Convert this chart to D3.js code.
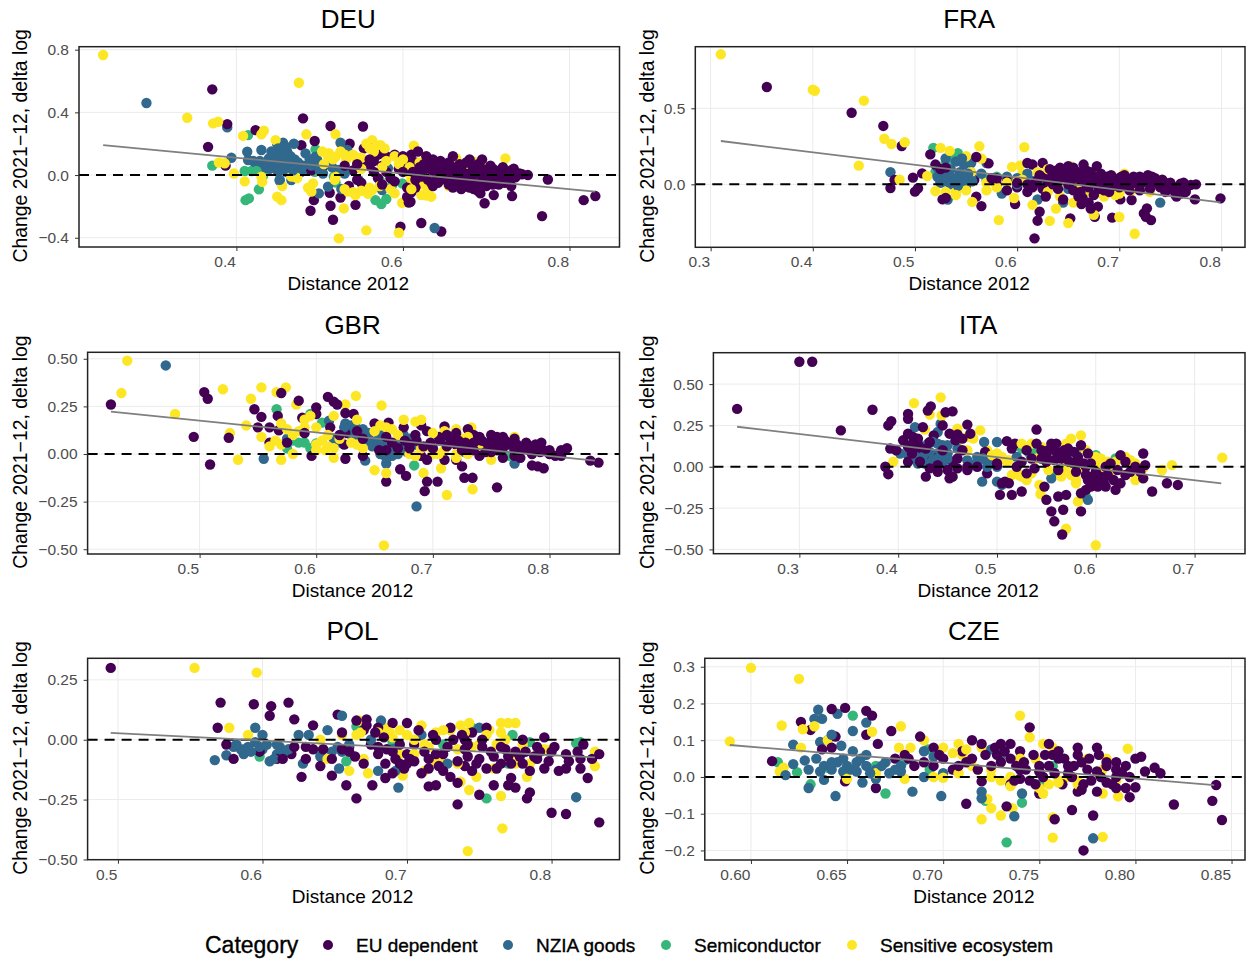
<!DOCTYPE html>
<html>
<head>
<meta charset="utf-8">
<script src="https://cdn.jsdelivr.net/npm/d3@7"></script>
<style>
  html, body { margin: 0; padding: 0; background: #fff; }
  text { font-family: "Liberation Sans", Arial, sans-serif; }
</style>
</head>
<body>
<div id="chart"></div>
<script>
const categories = ["EU dependent", "NZIA goods", "Semiconductor", "Sensitive ecosystem"];
const colors = ["#440154", "#31688e", "#35b779", "#fde725"];

// points, [distance 2012, change 2021-12]
const deuEu = [[.371,.547],[.389,.325],[.423,.287],[.366,.18],[.387,.06],[.48,.362],[.513,.313],[.552,.31],[.478,.19],[.494,.217],[.536,.2],[.553,.17],[.562,.17],[.59,.13],[.58,.12],[.57,.13],[.493,-.16],[.489,-.228],[.513,-.196],[.516,-.285],[.525,-.143],[.543,-.19],[.512,-.113],[.597,-.33],[.622,-.306],[.646,-.36],[.767,-.262],[.817,-.16],[.831,-.134],[.774,-.028],[.743,.005],[.735,-.015],[.731,-.134],[.698,-.18],[.709,-.128],[.693,-.117],[.609,-.17],[.607,-.175],[.605,-.14],[.61,-.11],[.49,.03],[.505,.06],[.54,.03],[.55,.07],[.545,-.03],[.535,-.07],[.55,-.05],[.565,.09],[.56,.06],[.575,.06],[.58,.02],[.585,-.02],[.57,-.02],[.565,.02],[.595,.04],[.6,.12],[.605,.1],[.61,.13],[.618,.15],[.6,.06],[.615,.08],[.625,.07],[.63,.1],[.62,.03],[.63,-.03],[.61,-.05],[.615,-.08],[.605,-.08],[.635,.08],[.64,.06],[.645,.09],[.65,.05],[.655,.02],[.65,-.02],[.655,-.06],[.66,-.08],[.665,-.04],[.66,.12],[.668,.07],[.672,.03],[.675,-.02],[.68,-.06],[.685,-.09],[.69,-.1],[.678,.06],[.685,.02],[.69,-.03],[.695,.04],[.7,-.01],[.705,.06],[.71,.02],[.715,-.02],[.72,.02],[.725,-.04],[.73,.03],[.73,-.07],[.715,-.06],[.7,-.07],[.665,.03],[.67,-.09],[.66,0],[.645,-.03],[.635,.03],[.64,-.01],[.695,.1],[.69,.07],[.68,.1],[.655,.08],[.72,.05],[.74,.01],[.725,.0],[.735,-.01],[.71,-.03],[.69,.01],[.68,.01],[.67,0],[.65,.03]];
const deuEuB = [[.628,.12],[.636,.1],[.644,.07],[.652,.07],[.66,.05],[.67,.05],[.676,.08],[.684,.05],[.692,.05],[.7,.03],[.708,.04],[.716,.03],[.724,.02],[.733,.04],[.642,.03],[.648,.01],[.658,.03],[.664,.01],[.674,.01],[.682,-.01],[.694,-.01],[.702,.01],[.712,0],[.722,-.01],[.642,-.05],[.654,-.04],[.664,-.06],[.674,-.05],[.683,-.04],[.692,-.06],[.704,-.04],[.714,-.04],[.722,-.05],[.662,-.02],[.672,-.07],[.68,-.08],[.698,-.03],[.708,-.06],[.62,.05],[.628,.04],[.612,.02],[.622,-.01],[.634,-.05],[.636,-.07],[.615,-.03],[.6,.02],[.59,-.04],[.575,-.06],[.56,.1],[.545,.07],[.53,.06],[.75,0]];
const deuNzia = [[.292,.46],[.389,.304],[.394,.11],[.413,.149],[.414,.096],[.43,.16],[.439,.106],[.449,.198],[.456,.206],[.469,.2],[.461,.149],[.449,.128],[.425,.064],[.432,.043],[.452,.043],[.464,.053],[.452,-.036],[.466,-.032],[.483,.138],[.495,.117],[.497,.096],[.478,.021],[.485,.032],[.51,-.074],[.499,-.117],[.526,-.089],[.525,.206],[.533,.16],[.522,.032],[.547,-.032],[.558,-.106],[.575,-.096],[.582,.043],[.638,-.338],[.44,.07],[.458,.08],[.47,.08],[.475,.05],[.455,.1],[.445,.05],[.42,.09],[.46,.02],[.49,.06]];
const deuNziaB = [[.455,.13],[.46,.18],[.465,.12],[.47,.1],[.448,.085],[.44,.04],[.435,.08],[.428,.09],[.45,.02],[.456,.06],[.462,.09],[.468,.03],[.474,.08],[.48,.06],[.488,.1],[.492,.08],[.5,.03],[.504,.01],[.515,.05],[.53,.01],[.452,-.03],[.45,.17],[.442,.15]];
const deuSemi = [[.371,.06],[.414,.255],[.41,.026],[.418,.026],[.432,-.004],[.427,-.091],[.411,-.16],[.415,-.149],[.449,.079],[.495,.164],[.494,.021],[.512,.074],[.519,-.047],[.517,-.01],[.567,-.16],[.574,-.185],[.58,-.153],[.572,-.032],[.599,-.053],[.587,-.064],[.424,.027]];
const deuSens = [[.24,.766],[.475,.589],[.341,.366],[.372,.33],[.378,.34],[.408,.25],[.433,.283],[.43,.26],[.484,.26],[.519,.26],[.447,.223],[.563,.223],[.573,.19],[.56,.17],[.613,.187],[.723,.106],[.664,.106],[.685,.085],[.379,.08],[.386,.075],[.397,.01],[.41,-.04],[.431,-.043],[.43,-.01],[.449,-.138],[.454,-.16],[.529,-.213],[.523,-.404],[.556,-.353],[.595,-.368],[.599,-.177],[.511,.14],[.503,.15],[.519,.117],[.543,.117],[.6,.075],[.619,.053],[.634,-.138],[.622,-.128],[.69,-.038],[.59,-.117],[.563,-.096],[.543,-.128],[.534,-.106],[.49,-.106],[.492,-.053],[.466,-.01],[.473,-.02],[.519,-.01],[.545,.09],[.47,-.01],[.455,-.07],[.575,.05],[.59,.12],[.612,.0],[.625,-.06],[.638,-.05],[.645,.02],[.655,-.07],[.7,.05],[.71,.02],[.62,.08],[.565,.15],[.53,.13],[.55,.04],[.505,.07],[.56,-.08],[.61,-.03]];
const deuSensB = [[.51,.12],[.516,.1],[.525,.15],[.532,.1],[.54,.13],[.55,.11],[.556,.2],[.568,.19],[.578,.17],[.6,.1],[.608,.05],[.604,.02],[.595,.07],[.58,.09],[.518,-.03],[.53,-.09],[.54,-.11],[.55,-.1],[.558,-.12],[.486,-.08],[.61,-.09],[.628,-.13],[.63,-.09],[.64,-.02],[.648,.05],[.66,-.03],[.69,-.02],[.706,-.03],[.68,.05],[.572,-.07],[.585,-.09]];

const fraEu = [[.355,.64],[.438,.471],[.469,.384],[.487,.252],[.476,-.024],[.48,.029],[.498,.044],[.507,.072],[.5,-.048],[.503,-.026],[.515,.197],[.527,-.099],[.572,.138],[.558,.029],[.56,-.081],[.565,-.143],[.598,-.129],[.617,-.355],[.62,-.239],[.622,-.18],[.652,-.224],[.676,-.213],[.679,-.147],[.693,-.219],[.701,-.099],[.712,-.103],[.724,-.191],[.727,-.158],[.731,-.235],[.726,-.213],[.799,-.092],[.774,-.099],[.77,-.004],[.76,.005],[.56,.18],[.59,.02],[.58,0],[.6,-.02],[.575,.03],[.61,.14],[.625,.14],[.615,.13],[.63,.06],[.635,.08],[.64,.07],[.645,.05],[.62,.03],[.63,.02],[.625,-.03],[.61,-.05],[.615,-.02],[.64,.03],[.65,.12],[.66,.08],[.665,.13],[.678,.12],[.65,.08],[.655,.04],[.645,.09],[.635,.05],[.665,.06],[.67,.03],[.64,-.03],[.645,-.1],[.66,-.08],[.663,-.13],[.672,-.16],[.655,-.04],[.67,-.02],[.675,-.07],[.68,.03],[.69,.01],[.7,.04],[.71,.02],[.71,-.04],[.72,.05],[.725,.03],[.73,.02],[.72,-.04],[.74,-.02],[.735,.04],[.745,.01],[.75,-.03],[.755,-.07],[.76,-.06],[.762,.0],[.765,-.03],[.755,-.02],[.74,.01],[.73,-.03],[.705,.06],[.695,.03],[.685,.0],[.685,-.04],[.7,-.02],[.652,.02],[.658,.06],[.648,.1],[.655,.11],[.65,.0],[.755,-.04],[.745,-.05],[.775,0]];
const fraEuB = [[.632,.1],[.638,.09],[.642,.11],[.64,.08],[.646,.07],[.652,.06],[.66,.05],[.662,.03],[.668,.09],[.672,.08],[.676,.05],[.682,.07],[.688,.05],[.692,.06],[.698,.02],[.702,.05],[.714,.05],[.722,.01],[.728,.06],[.732,.05],[.737,.01],[.742,.03],[.746,-.02],[.75,.01],[.758,-.05],[.763,.01],[.765,-.05],[.756,-.08],[.662,-.05],[.668,-.01],[.674,.01],[.68,-.03],[.69,-.05],[.694,-.01],[.705,-.01],[.715,.01],[.67,-.12],[.664,-.09],[.58,.04],[.59,-.04],[.6,.01],[.61,.0],[.618,.01],[.622,.06],[.628,-.08],[.635,0],[.53,-.09],[.52,.13],[.525,.1],[.53,.11],[.575,.04]];
const fraNzia = [[.476,.08],[.522,.08],[.53,.04],[.53,.17],[.54,.15],[.548,.13],[.555,.14],[.57,.14],[.535,.1],[.545,.06],[.55,.03],[.525,.01],[.535,0],[.54,.03],[.55,-.01],[.555,.05],[.532,-.1],[.525,.02],[.545,.01],[.585,-.06],[.62,-.1],[.61,.07],[.59,.05],[.645,-.12],[.74,-.12],[.565,.07],[.6,.04],[.53,.08],[.625,.02]];
const fraNziaB = [[.522,.11],[.528,.09],[.534,.06],[.54,.04],[.544,.08],[.552,.07],[.556,.02],[.528,.02],[.532,.02],[.538,.01],[.548,.03],[.542,-.01],[.546,.17],[.53,.06],[.522,.05],[.6,.0],[.612,.03],[.64,-.01],[.65,-.03]];
const fraSemi = [[.518,.24],[.53,.14],[.542,.205],[.535,.17],[.52,.08],[.57,.03],[.58,.05],[.655,.03],[.67,-.02],[.678,.02],[.68,-.05],[.705,.02],[.725,-.03],[.675,-.16]];
const fraSens = [[.31,.855],[.4,.622],[.402,.615],[.45,.55],[.47,.3],[.477,.265],[.49,.277],[.445,.123],[.485,.03],[.525,.24],[.534,.22],[.55,.185],[.563,.25],[.565,.17],[.607,.245],[.595,.115],[.603,.125],[.605,.07],[.52,-.045],[.53,-.05],[.54,-.05],[.55,-.04],[.555,.08],[.512,.055],[.556,-.115],[.582,-.235],[.597,-.09],[.615,-.135],[.632,-.24],[.65,-.255],[.638,-.16],[.642,-.08],[.655,-.12],[.655,.09],[.652,.12],[.675,-.2],[.685,-.08],[.69,-.02],[.68,.07],[.7,-.215],[.715,-.325],[.705,.07],[.694,.05],[.715,.04],[.75,-.01],[.73,-.05],[.7,-.06],[.57,-.04],[.6,.02],[.63,.1],[.64,-.02],[.66,-.01],[.67,.07]];
const fraSensB = [[.54,-.07],[.59,.01],[.605,.03],[.62,.08],[.63,-.05],[.668,-.05],[.685,.04],[.696,-.07],[.712,-.04],[.7,.03],[.58,-.02],[.57,.01]];

const gbrEu = [[.424,.26],[.504,.325],[.507,.29],[.495,.09],[.509,-.055],[.525,.085],[.547,.235],[.553,.195],[.55,.14],[.56,.06],[.567,.2],[.568,.125],[.585,.28],[.57,.32],[.588,.19],[.6,.245],[.6,.21],[.61,.3],[.615,.275],[.618,.26],[.596,-.01],[.612,.14],[.625,.215],[.632,.21],[.624,.05],[.625,.11],[.625,-.025],[.64,-.01],[.65,.16],[.662,.165],[.66,-.145],[.675,.14],[.672,-.08],[.677,-.115],[.693,-.195],[.695,-.145],[.704,-.145],[.69,-.01],[.69,.15],[.695,.12],[.71,.145],[.705,.09],[.71,-.03],[.72,-.03],[.725,-.065],[.727,-.125],[.734,-.125],[.755,-.175],[.73,.13],[.735,.1],[.74,.05],[.72,.05],[.715,.07],[.745,.04],[.75,.1],[.755,.09],[.76,.09],[.765,.05],[.76,-.02],[.78,.06],[.785,.04],[.79,.03],[.793,.06],[.79,-.065],[.795,-.075],[.785,-.06],[.8,.02],[.81,.02],[.815,.03],[.805,-.01],[.835,-.035],[.842,-.045],[.77,.08],[.775,.02],[.73,.03],[.74,-.01],[.7,.03],[.68,.05],[.66,.02],[.665,.06],[.685,.1],[.695,-.03],[.72,.11],[.75,.01],[.76,.03],[.77,.02],[.795,.02],[.785,.0]];
const gbrEuB = [[.722,.07],[.728,.06],[.735,.06],[.742,.07],[.748,.06],[.752,.05],[.758,.05],[.762,.07],[.768,.06],[.772,.05],[.778,.03],[.782,.02],[.788,.05],[.792,.01],[.725,.02],[.712,.04],[.706,.07],[.698,.06],[.692,.04],[.686,.07],[.68,.03],[.676,.07],[.67,.03],[.712,.1],[.735,.02],[.745,.01],[.755,.02],[.77,-.01],[.775,-.02],[.74,.09],[.66,.09],[.654,.02],[.64,.08],[.635,.12],[.62,.1],[.56,.14],[.575,.06],[.59,.11],[.8,.0],[.81,-.01]];
const gbrNzia = [[.471,.465],[.555,-.025],[.686,-.275],[.77,-.05],[.611,.175],[.625,.16],[.63,.15],[.64,.13],[.645,.11],[.615,.08],[.63,.1],[.645,.055],[.642,-.035],[.655,.1],[.66,.08],[.655,.0],[.66,-.05],[.668,.02],[.675,.04],[.68,.08],[.675,.1],[.62,.06],[.665,-.01],[.648,.04],[.575,.08]];
const gbrNziaB = [[.628,.13],[.634,.14],[.638,.11],[.632,.08],[.624,.14],[.652,.07],[.658,.04],[.662,.01],[.67,.0],[.67,.06],[.678,.01],[.655,.03],[.66,-.02],[.642,.1],[.645,.08],[.685,.05]];
const gbrSemi = [[.566,.235],[.595,.21],[.605,.165],[.59,.06],[.6,.055],[.575,.03],[.66,.03],[.675,.09],[.684,-.06],[.7,.02],[.727,.01],[.765,-.01],[.595,.03],[.585,.06],[.58,.07]];
const gbrSens = [[.438,.49],[.433,.32],[.479,.21],[.52,.34],[.526,.11],[.533,-.03],[.544,.29],[.553,.35],[.566,.325],[.574,.35],[.583,.26],[.6,.14],[.634,.305],[.656,.255],[.625,.26],[.54,.15],[.553,.09],[.57,.16],[.57,-.03],[.58,.0],[.56,.04],[.57,.05],[.595,.2],[.59,.14],[.6,.02],[.61,.04],[.615,-.02],[.615,.03],[.635,.18],[.63,.06],[.615,.2],[.65,-.085],[.66,-.1],[.692,-.1],[.707,-.075],[.712,-.215],[.734,-.185],[.658,-.48],[.675,.18],[.685,.17],[.69,.18],[.71,.12],[.72,.13],[.733,.14],[.75,-.03],[.72,-.02],[.7,.0],[.74,.0],[.75,.05],[.77,.09],[.78,.05],[.69,.03],[.66,.14],[.725,.08],[.72,.0],[.68,.0]];
const gbrSensB = [[.605,.07],[.6,.05],[.608,.02],[.62,.08],[.58,.1],[.585,.12],[.59,.18],[.635,.05],[.64,.03],[.65,.12],[.665,.13],[.655,.15],[.67,.1],[.695,.04],[.705,.0],[.71,.02],[.73,.0],[.74,.02],[.755,.03],[.73,.09],[.7,.11],[.575,.13],[.565,.07],[.61,.1],[.685,-.01]];

const itaEu = [[.3,.635],[.313,.635],[.237,.35],[.374,.345],[.342,.22],[.393,.275],[.39,.25],[.41,.32],[.41,.29],[.43,.34],[.433,.365],[.455,.335],[.448,.33],[.445,.25],[.47,.255],[.46,.195],[.465,.17],[.473,.2],[.392,.11],[.398,.1],[.405,.16],[.41,.2],[.415,.18],[.42,.17],[.425,.24],[.436,.19],[.387,0],[.39,-.045],[.428,-.06],[.41,.03],[.42,.09],[.427,.045],[.435,.055],[.44,-.03],[.45,-.02],[.452,-.07],[.455,.03],[.46,-.01],[.47,-.02],[.49,-.04],[.488,.09],[.503,-.17],[.515,-.17],[.525,-.15],[.508,-.09],[.51,.155],[.518,.14],[.525,.03],[.53,-.04],[.54,.225],[.54,.14],[.545,.1],[.55,.03],[.555,.14],[.56,.14],[.56,.09],[.565,.05],[.548,-.12],[.55,-.2],[.555,-.27],[.558,-.33],[.566,-.41],[.562,-.18],[.57,-.17],[.567,-.26],[.585,-.27],[.585,-.16],[.59,-.14],[.595,-.12],[.6,-.1],[.585,.13],[.592,.08],[.58,.03],[.573,.03],[.61,-.12],[.62,-.14],[.625,-.1],[.615,.02],[.625,.07],[.63,-.05],[.648,.08],[.65,.01],[.648,-.07],[.657,-.15],[.672,-.1],[.683,-.11],[.6,-.03],[.59,-.05],[.605,-.06],[.57,.06],[.55,.07],[.58,-.03],[.595,.02],[.52,.0],[.5,.01],[.61,.0]];
const itaEuB = [[.412,.13],[.42,.14],[.428,.11],[.432,.15],[.445,.1],[.452,.2],[.458,.16],[.41,.12],[.414,.08],[.505,-.1],[.512,-.1],[.5,.02],[.515,.11],[.53,.1],[.535,.05],[.538,-.01],[.545,.05],[.552,.1],[.558,.04],[.562,-.02],[.568,.1],[.572,.11],[.578,.09],[.582,.06],[.588,.02],[.59,.0],[.592,-.08],[.596,-.06],[.602,-.12],[.608,-.09],[.612,-.05],[.618,-.08],[.622,-.02],[.63,.03],[.635,-.03],[.64,.0],[.645,-.03],[.46,.05],[.47,.0],[.48,.0],[.455,-.06],[.44,.01],[.432,-.01],[.422,.03],[.465,.1]];
const itaNzia = [[.417,.24],[.443,.26],[.44,.21],[.43,.14],[.44,.14],[.45,.13],[.425,.1],[.41,.07],[.415,.1],[.42,.05],[.43,.06],[.44,.08],[.445,.04],[.45,.08],[.42,.02],[.44,.02],[.402,.08],[.487,.15],[.5,.15],[.48,.06],[.49,.03],[.475,.01],[.485,-.09],[.5,-.09],[.505,-.11],[.5,.0],[.445,.02],[.555,-.07],[.592,-.2],[.605,-.07],[.48,.03],[.52,.06]];
const itaNziaB = [[.435,.15],[.445,.13],[.425,.06],[.435,.04],[.418,.06],[.45,.05],[.44,.05],[.432,.09],[.47,.04],[.486,.05],[.495,.05],[.46,.11],[.427,.02],[.49,.0]];
const itaSemi = [[.455,-.06],[.525,.11],[.533,.08],[.537,.07],[.56,-.03],[.565,.08],[.575,.08],[.6,.07],[.59,-.18],[.62,.05],[.57,.02],[.58,.08],[.535,.1]];
const itaSens = [[.416,.385],[.443,.42],[.432,.315],[.444,.31],[.427,.225],[.395,.03],[.46,.23],[.47,.18],[.483,.22],[.476,.17],[.46,.15],[.49,.1],[.5,.08],[.512,.04],[.525,-.06],[.515,-.05],[.535,.14],[.545,.12],[.53,-.08],[.543,-.11],[.544,-.165],[.57,-.375],[.6,-.475],[.582,-.21],[.575,.17],[.585,.19],[.57,.14],[.57,.0],[.565,-.03],[.58,-.08],[.6,.0],[.61,-.02],[.605,.05],[.625,.05],[.63,.06],[.635,.04],[.64,-.08],[.63,-.05],[.645,-.02],[.667,-.02],[.677,.01],[.728,.055],[.612,.03],[.59,.1],[.535,-.04]];
const itaSensB = [[.51,.03],[.52,-.03],[.522,-.05],[.525,.14],[.54,.05],[.552,-.02],[.565,-.06],[.575,-.05],[.58,-.1],[.6,.03],[.615,-.04],[.62,.03],[.632,.03],[.64,.02],[.648,-.01],[.495,.07],[.505,.06],[.47,.1],[.585,-.01],[.6,.06]];

const polEu = [[.495,.3],[.571,.155],[.569,.05],[.594,.148],[.606,.14],[.605,.1],[.618,.155],[.622,.085],[.635,.06],[.627,-.155],[.648,-.15],[.652,.105],[.658,-.19],[.665,-.245],[.676,-.19],[.665,.08],[.672,.085],[.61,-.08],[.62,-.06],[.598,-.05],[.58,-.08],[.575,-.02],[.635,-.04],[.64,-.11],[.63,-.08],[.655,.03],[.66,-.03],[.67,.04],[.675,-.02],[.68,.05],[.68,-.06],[.685,-.1],[.69,-.05],[.685,-.16],[.69,.07],[.695,-.1],[.7,.07],[.7,-.06],[.705,-.02],[.71,-.14],[.715,-.195],[.72,-.19],[.72,.0],[.725,-.06],[.73,.05],[.725,-.13],[.73,-.155],[.735,-.18],[.735,-.27],[.74,-.11],[.742,-.07],[.745,.03],[.75,-.23],[.752,-.03],[.755,.05],[.755,-.12],[.76,-.19],[.77,-.19],[.775,-.2],[.772,-.16],[.77,-.07],[.765,-.03],[.78,-.1],[.78,.0],[.79,-.03],[.785,-.13],[.795,.01],[.795,-.12],[.785,-.22],[.783,-.245],[.8,-.305],[.81,-.31],[.833,-.345],[.833,-.06],[.81,-.12],[.82,-.12],[.822,-.02],[.825,-.16],[.82,-.08],[.8,-.05],[.81,-.06],[.76,-.07],[.75,-.08],[.74,.0],[.715,-.08],[.7,-.1],[.68,-.03],[.72,-.06],[.74,-.04],[.67,-.1],[.66,-.05],[.695,-.02],[.775,-.05],[.79,-.08]];
const polEuB = [[.672,.06],[.678,.03],[.684,.01],[.686,-.04],[.692,-.08],[.698,-.12],[.702,-.08],[.708,.04],[.712,-.05],[.718,.02],[.722,-.11],[.728,-.03],[.732,.0],[.738,.02],[.742,-.02],[.748,-.1],[.752,.0],[.758,-.05],[.762,-.12],[.768,-.04],[.772,-.1],[.778,-.07],[.782,-.05],[.788,-.07],[.792,-.05],[.798,-.09],[.802,-.03],[.812,-.09],[.818,-.05],[.828,-.08],[.664,-.07],[.655,-.04],[.648,-.08],[.642,-.04],[.63,-.03],[.622,-.03],[.614,-.08],[.69,-.14],[.705,-.09],[.715,-.12],[.735,-.09],[.745,-.13],[.765,-.1],[.805,-.13]];
const polNzia = [[.567,-.085],[.575,-.065],[.58,-.03],[.587,-.06],[.595,-.01],[.59,-.03],[.595,.05],[.6,.02],[.6,-.04],[.61,-.06],[.605,-.09],[.612,-.03],[.625,.02],[.628,-.1],[.64,-.07],[.645,.04],[.652,-.03],[.653,-.12],[.655,.1],[.682,.08],[.68,-.13],[.692,-.13],[.694,-.2],[.69,-.04],[.71,.02],[.728,-.1],[.75,.05],[.817,-.24],[.585,-.04],[.615,-.05],[.632,.02],[.66,-.02],[.675,0]];
const polNziaB = [[.582,-.02],[.588,-.04],[.592,-.05],[.598,-.03],[.603,-.02],[.608,-.08],[.61,-.02],[.618,-.04],[.648,-.05],[.655,-.05]];
const polSemi = [[.598,-.07],[.59,-.04],[.64,-.05],[.658,-.09],[.665,.055],[.69,-.01],[.725,-.02],[.755,-.245],[.745,.05],[.773,.02],[.785,-.01],[.817,-.015],[.792,-.05],[.82,-.01],[.77,-.1]];
const polSens = [[.553,.3],[.596,.28],[.577,.05],[.59,.02],[.655,.02],[.665,.02],[.66,-.13],[.667,.08],[.673,-.14],[.67,-.08],[.685,.05],[.697,-.15],[.695,-.06],[.7,.02],[.71,.06],[.712,-.13],[.715,-.03],[.725,-.1],[.73,.04],[.737,.06],[.737,-.175],[.743,.07],[.743,-.21],[.742,-.465],[.748,-.155],[.757,.04],[.76,-.12],[.765,.07],[.77,.07],[.775,.07],[.765,-.235],[.766,-.37],[.775,-.1],[.785,-.1],[.78,-.02],[.783,-.155],[.795,-.04],[.8,-.04],[.83,-.05],[.83,-.11],[.72,.03],[.75,-.02],[.645,-.08],[.69,.01],[.735,-.04],[.64,.0]];
const polSensB = [[.668,.03],[.68,.03],[.688,.03],[.695,.04],[.705,.0],[.712,-.02],[.725,.04],[.74,.03],[.745,-.03],[.755,.02],[.762,-.02],[.768,.0],[.772,-.06],[.705,-.06],[.72,-.09],[.735,-.1],[.79,-.06],[.765,.03]];

const czeEu = [[.611,.043],[.626,.15],[.631,.128],[.642,.185],[.649,.188],[.66,.18],[.663,.167],[.66,.115],[.644,.11],[.666,.09],[.673,.125],[.637,.075],[.642,.08],[.649,-.012],[.665,-.03],[.675,.05],[.682,.05],[.69,.04],[.688,.11],[.695,.08],[.712,-.073],[.715,.1],[.72,.09],[.72,-.012],[.73,.09],[.735,.09],[.733,-.08],[.745,.135],[.74,.07],[.75,-.045],[.755,.09],[.757,.06],[.758,-.115],[.767,-.09],[.773,-.2],[.778,-.105],[.77,.08],[.78,.08],[.772,.04],[.76,.05],[.765,.03],[.75,.03],[.74,-.005],[.73,.04],[.725,.03],[.715,.05],[.71,.07],[.705,.02],[.735,-.02],[.745,-.01],[.762,-.02],[.77,-.04],[.78,-.04],[.785,-.015],[.795,-.03],[.797,-.055],[.8,-.028],[.79,.04],[.795,.03],[.8,.05],[.803,.055],[.805,.015],[.81,.025],[.813,.01],[.82,-.075],[.84,-.065],[.842,-.022],[.845,-.117],[.785,.04],[.775,.02],[.79,.0],[.755,.03],[.742,.04],[.728,.06],[.752,.0],[.78,.015],[.765,.01],[.79,.02]];
const czeEuB = [[.708,.03],[.712,.04],[.718,.02],[.722,.06],[.727,.08],[.732,.07],[.738,.03],[.743,.02],[.747,.06],[.748,-.02],[.753,.06],[.758,.01],[.76,.07],[.763,.05],[.767,.0],[.77,.06],[.773,-.02],[.776,.05],[.777,-.01],[.782,.0],[.785,.03],[.788,-.02],[.79,-.03],[.793,.01],[.797,0],[.735,.05],[.737,-.01],[.74,.02],[.75,.015],[.772,-.035],[.768,.03],[.781,.06],[.7,.05],[.695,.03],[.685,.03],[.68,.06],[.698,.06]];
const czeNzia = [[.635,.183],[.645,.172],[.633,.158],[.637,.158],[.653,.125],[.66,.148],[.64,.1],[.636,.095],[.622,.088],[.647,.085],[.642,.115],[.653,.07],[.66,.06],[.628,.045],[.622,.035],[.618,.005],[.63,-.03],[.644,-.052],[.638,-.008],[.634,.05],[.645,.04],[.65,.03],[.655,.04],[.66,.03],[.665,-.005],[.63,.02],[.658,-.015],[.67,.04],[.675,.02],[.678,.03],[.684,-.04],[.699,-.052],[.695,.055],[.7,.01],[.69,.07],[.72,-.04],[.72,-.058],[.725,.075],[.73,.06],[.741,-.045],[.737,-.107],[.778,-.167],[.69,0],[.665,.02]];
const czeNziaB = [[.638,.03],[.642,.02],[.648,.015],[.652,.02],[.655,.015],[.648,.05],[.657,.05],[.662,.01],[.672,.01],[.678,.015],[.668,.03],[.636,.015],[.642,.04]];
const czeSemi = [[.614,.04],[.624,.013],[.631,-.02],[.64,.025],[.653,.167],[.665,.03],[.67,-.045],[.692,.075],[.693,.02],[.68,.045],[.722,-.065],[.733,-.178],[.741,-.07],[.752,-.013],[.757,.03],[.74,.05]];
const czeSens = [[.6,.297],[.589,.097],[.625,.267],[.616,.14],[.615,.015],[.617,.025],[.627,.13],[.633,.138],[.64,.1],[.626,.08],[.663,.123],[.678,.138],[.677,.08],[.683,.08],[.69,.1],[.7,.08],[.708,.09],[.71,.06],[.72,.08],[.725,.02],[.72,-.115],[.723,-.06],[.725,-.085],[.73,-.105],[.736,-.085],[.74,.167],[.745,.108],[.748,.05],[.752,.09],[.757,.08],[.757,-.11],[.757,-.165],[.783,-.163],[.752,-.045],[.74,.05],[.735,.0],[.76,-.01],[.77,-.01],[.775,.05],[.783,-.045],[.785,.05],[.791,-.053],[.796,.077],[.715,.03],[.68,-.005],[.665,.01],[.7,-.002],[.65,-.005],[.755,-.02],[.765,0]];
const czeSensB = [[.705,.065],[.712,.075],[.718,.02],[.725,.0],[.73,-.01],[.735,-.025],[.75,-.03],[.76,-.015],[.77,-.02],[.783,.02],[.79,-.01],[.708,.01],[.695,.0]];

const trends = {
  DEU: [[.24, .191], [.831, -.106]],
  FRA: [[.31, .285], [.799, -.118]],
  GBR: [[.424, .222], [.839, -.035]],
  ITA: [[.237, .242], [.727, -.1]],
  POL: [[.495, .029], [.83, -.074]],
  CZE: [[.589, .087], [.841, -.022]]
};

const panels = [
  { name: "DEU", series: [deuEu.concat(deuEuB), deuNzia.concat(deuNziaB), deuSemi, deuSens.concat(deuSensB)], xDomain: [.211, .86], yDomain: [-.459, .819], xTicks: [.4, .6, .8], yTicks: [-.4, 0, .4, .8], yFmt: ".1f", xFmt: ".1f", box: [79, 619.5, 46.7, 247] },
  { name: "FRA", series: [fraEu.concat(fraEuB), fraNzia.concat(fraNziaB), fraSemi, fraSens.concat(fraSensB)], xDomain: [.285, .823], yDomain: [-.414, .905], xTicks: [.3, .4, .5, .6, .7, .8], yTicks: [0, .5], yFmt: ".1f", xFmt: ".1f", box: [695.3, 1245, 46.7, 247.3] },
  { name: "GBR", series: [gbrEu.concat(gbrEuB), gbrNzia.concat(gbrNziaB), gbrSemi, gbrSens.concat(gbrSensB)], xDomain: [.404, .86], yDomain: [-.525, .534], xTicks: [.5, .6, .7, .8], yTicks: [-.5, -.25, 0, .25, .5], yFmt: ".2f", xFmt: ".1f", box: [87.6, 619.5, 352.3, 554] },
  { name: "ITA", series: [itaEu.concat(itaEuB), itaNzia.concat(itaNziaB), itaSemi, itaSens.concat(itaSensB)], xDomain: [.213, .751], yDomain: [-.526, .69], xTicks: [.3, .4, .5, .6, .7], yTicks: [-.5, -.25, 0, .25, .5], yFmt: ".2f", xFmt: ".1f", box: [713.4, 1245, 352.7, 553.7] },
  { name: "POL", series: [polEu.concat(polEuB), polNzia.concat(polNziaB), polSemi, polSens.concat(polSensB)], xDomain: [.479, .847], yDomain: [-.501, .34], xTicks: [.5, .6, .7, .8], yTicks: [-.5, -.25, 0, .25], yFmt: ".2f", xFmt: ".1f", box: [87.6, 619.5, 658.3, 859.7] },
  { name: "CZE", series: [czeEu.concat(czeEuB), czeNzia.concat(czeNziaB), czeSemi, czeSens.concat(czeSensB)], xDomain: [.576, .857], yDomain: [-.226, .323], xTicks: [.6, .65, .7, .75, .8, .85], yTicks: [-.2, -.1, 0, .1, .2, .3], yFmt: ".1f", xFmt: ".2f", box: [704.8, 1245, 658.3, 860] }
];

const svg = d3.select("#chart").append("svg")
  .attr("width", 1247)
  .attr("height", 960)
  .style("display", "block");

panels.forEach((p, idx) => {
  const [left, right, top, bottom] = p.box;
  const x = d3.scaleLinear().domain(p.xDomain).range([left, right]);
  const y = d3.scaleLinear().domain(p.yDomain).range([bottom, top]);
  const g = svg.append("g");

  // grid
  g.selectAll(".gx").data(p.xTicks).enter().append("line")
    .attr("x1", d => x(d)).attr("x2", d => x(d))
    .attr("y1", top).attr("y2", bottom)
    .attr("stroke", "#ebebeb").attr("stroke-width", 1);
  g.selectAll(".gy").data(p.yTicks).enter().append("line")
    .attr("x1", left).attr("x2", right)
    .attr("y1", d => y(d)).attr("y2", d => y(d))
    .attr("stroke", "#ebebeb").attr("stroke-width", 1);

  // interleave the categories so they overlap like the original
  const pts = [];
  const n = d3.max(p.series, s => s.length);
  for (let i = 0; i < n; i++) {
    [3, 2, 1, 0].forEach(c => {
      if (p.series[c][i]) pts.push({ c: c, v: p.series[c][i] });
    });
  }
  g.selectAll(".pt").data(pts).enter().append("circle")
    .attr("cx", d => x(d.v[0]))
    .attr("cy", d => y(d.v[1]))
    .attr("r", 5.2)
    .attr("fill", d => colors[d.c]);

  g.append("line")
    .attr("x1", left).attr("x2", right)
    .attr("y1", y(0)).attr("y2", y(0))
    .attr("stroke", "#000").attr("stroke-width", 2)
    .attr("stroke-dasharray", "10,7");

  const line = d3.line().x(d => x(d[0])).y(d => y(d[1]));
  g.append("path")
    .attr("d", line(trends[p.name]))
    .attr("fill", "none")
    .attr("stroke", "#7f7f7f")
    .attr("stroke-width", 1.8);

  g.append("rect")
    .attr("x", left).attr("y", top)
    .attr("width", right - left).attr("height", bottom - top)
    .attr("fill", "none").attr("stroke", "#222").attr("stroke-width", 1.5);

  const xAxis = g.append("g")
    .attr("transform", `translate(0,${bottom})`)
    .call(d3.axisBottom(x).tickValues(p.xTicks).tickSize(4).tickFormat(d3.format(p.xFmt)));
  const yAxis = g.append("g")
    .attr("transform", `translate(${left},0)`)
    .call(d3.axisLeft(y).tickValues(p.yTicks).tickSize(4).tickFormat(d3.format(p.yFmt)));
  [xAxis, yAxis].forEach(a => {
    a.select(".domain").remove();
    a.selectAll("line").attr("stroke", "#333");
    a.selectAll("text").attr("fill", "#4d4d4d").style("font-size", "15.5px");
  });
  // x tick labels sit to the left of their ticks in the original
  xAxis.selectAll("text").attr("text-anchor", "end").attr("x", -1).attr("y", 9);
  yAxis.selectAll("text").attr("x", -10);

  const cx = (left + right) / 2;
  g.append("text")
    .attr("x", cx - 1).attr("y", top - 18.5)
    .attr("text-anchor", "middle")
    .style("font-size", "26px")
    .text(p.name);
  g.append("text")
    .attr("x", cx - 1).attr("y", bottom + 43)
    .attr("text-anchor", "middle")
    .style("font-size", "19px")
    .text("Distance 2012");
  const tx = idx % 2 === 0 ? 27 : 654;
  g.append("text")
    .attr("transform", `translate(${tx},${(top + bottom) / 2 - 1}) rotate(-90)`)
    .attr("text-anchor", "middle")
    .style("font-size", "19.4px")
    .text("Change 2021\u221212, delta log");
});

// legend
const legendY = 945;
const legendDots = [328, 508, 666, 852];
svg.append("text")
  .attr("x", 205).attr("y", legendY + 8)
  .attr("stroke", "#000").attr("stroke-width", .35)
  .style("font-size", "23px")
  .text("Category");
categories.forEach((c, i) => {
  svg.append("circle")
    .attr("cx", legendDots[i]).attr("cy", legendY)
    .attr("r", 5).attr("fill", colors[i]);
  svg.append("text")
    .attr("x", legendDots[i] + 28).attr("y", legendY + 6.5)
    .attr("stroke", "#000").attr("stroke-width", .35)
    .style("font-size", "19px")
    .text(c);
});
</script>
</body>
</html>
